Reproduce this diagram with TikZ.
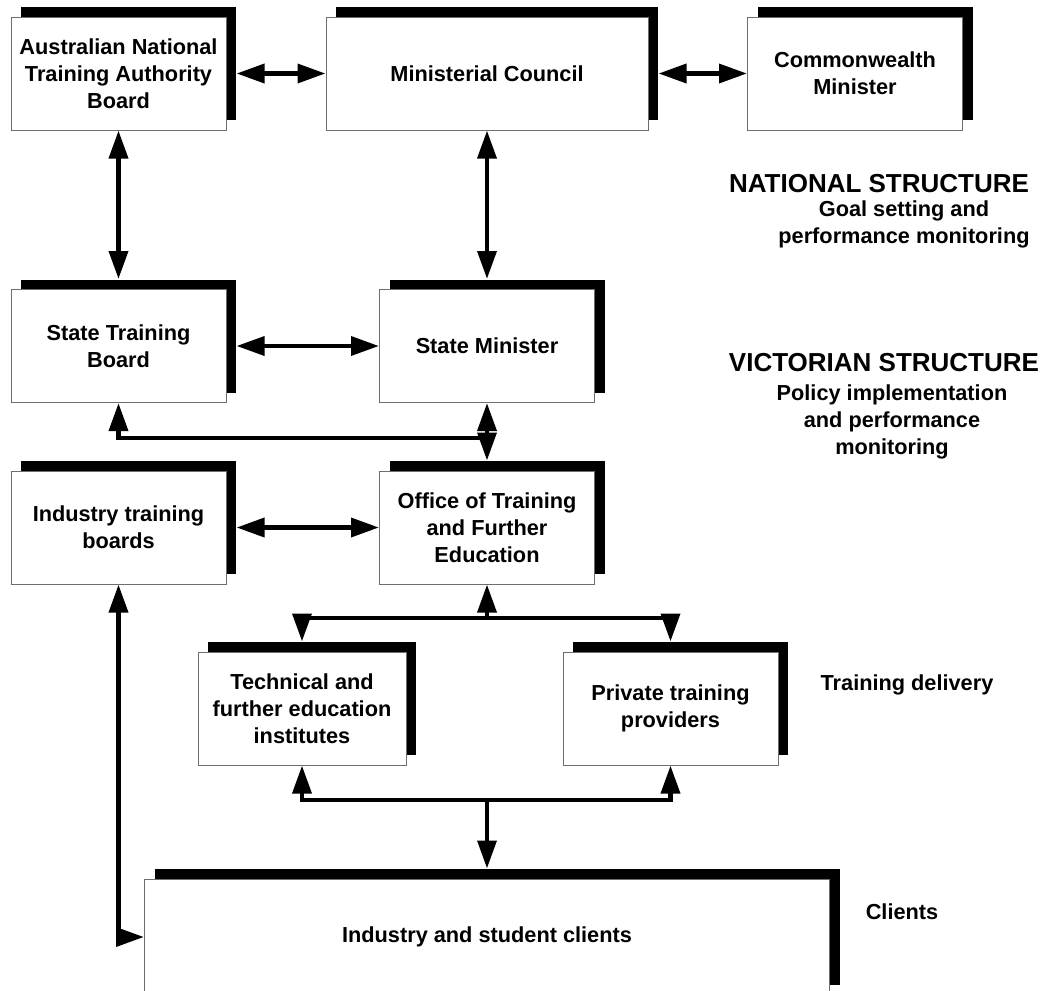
\documentclass[tikz,border=0pt]{standalone}
\usepackage{fontspec}
\setmainfont{Liberation Sans}
\usepackage{tikz}
\usetikzlibrary{arrows.meta,shadows,positioning}
\definecolor{edgegray}{HTML}{6E6E6E}
\newcommand{\boxfont}{\bfseries\fontsize{16.3}{20.25}\selectfont}
\newcommand{\headfont}{\bfseries\fontsize{19.5}{23}\selectfont}
\tikzset{
  ar/.style={-{Triangle[length=21pt,width=14pt]},line width=3.4pt},
  dar/.style={{Triangle[length=21pt,width=14pt]}-{Triangle[length=21pt,width=14pt]},line width=3.4pt},
  box/.style={draw=edgegray,line width=0.75pt,fill=white,align=center,inner sep=2pt,
    minimum width=161.25pt,minimum height=84.75pt,font=\boxfont,
    drop shadow={shadow xshift=7.5pt,shadow yshift=7.5pt,fill=black,opacity=1}},
  lbl/.style={align=center,font=\boxfont,inner sep=0pt}
}

\begin{document}
\begin{tikzpicture}[x=0.75pt,y=-0.75pt]
\useasboundingbox (0,0) rectangle (1046,990);
\clip (0,0) rectangle (1046,990);
\node[box] (anta) at (118.5,73.5) {Australian National\\Training Authority\\Board};
\node[box,minimum width=241.5pt] (mc) at (487,73.5) {Ministerial Council};
\node[box] (cwm) at (855,73.5) {Commonwealth\\Minister};
\node[box] (stb) at (118.5,346) {State Training\\Board};
\node[box] (sm) at (487,346) {State Minister};
\node[box] (itb) at (118.5,527.5) {Industry training\\boards};
\node[box] (otfe) at (487,527.5) {Office of Training\\and Further\\Education};
\node[box,minimum width=156pt] (tafe) at (302,708.5) {Technical and\\further education\\institutes};
\node[box] (ptp) at (670.5,708.5) {Private training\\providers};
\node[box,minimum width=513.75pt,minimum height=87pt] (clients) at (487,937) {Industry and student clients};
\coordinate (j1) at (487,438);
\coordinate (j2) at (487,618);
\coordinate (j3) at (487,800);
\draw[dar] ([xshift=7.5pt]anta.east) -- (mc.west);
\draw[dar] ([xshift=7.5pt]mc.east) -- (cwm.west);
\draw[dar] (anta.south) -- ([yshift=7.5pt]stb.north);
\draw[dar] (mc.south) -- ([yshift=7.5pt]sm.north);
\draw[dar] ([xshift=7.5pt]stb.east) -- (sm.west);
\draw[dar] (sm.south) -- ([yshift=7.5pt]otfe.north);
\draw[ar] (j1) -| (stb.south);
\draw[dar] ([xshift=7.5pt]itb.east) -- (otfe.west);
\draw[ar] (j2) -- (otfe.south);
\draw[ar] (j2) -| ([yshift=7.5pt]tafe.north);
\draw[ar] (j2) -| ([yshift=7.5pt]ptp.north);
\draw[ar] (j3) -| (tafe.south);
\draw[ar] (j3) -| (ptp.south);
\draw[ar] (j3) -- ([yshift=7.5pt]clients.north);
\draw[dar] (itb.south) |- (clients.west);
\node[lbl,font=\headfont] (natl) at (879,184) {NATIONAL STRUCTURE};
\node[lbl] (natlsub) at (904,224) {Goal setting and\\performance monitoring};
\node[lbl,font=\headfont] (vic) at (884,363) {VICTORIAN STRUCTURE};
\node[lbl] (vicsub) at (892,422) {Policy implementation\\and performance\\monitoring};
\node[lbl] (deliv) at (907,685) {Training delivery};
\node[lbl] (clientlbl) at (902,912) {Clients};
\end{tikzpicture}
\end{document}
